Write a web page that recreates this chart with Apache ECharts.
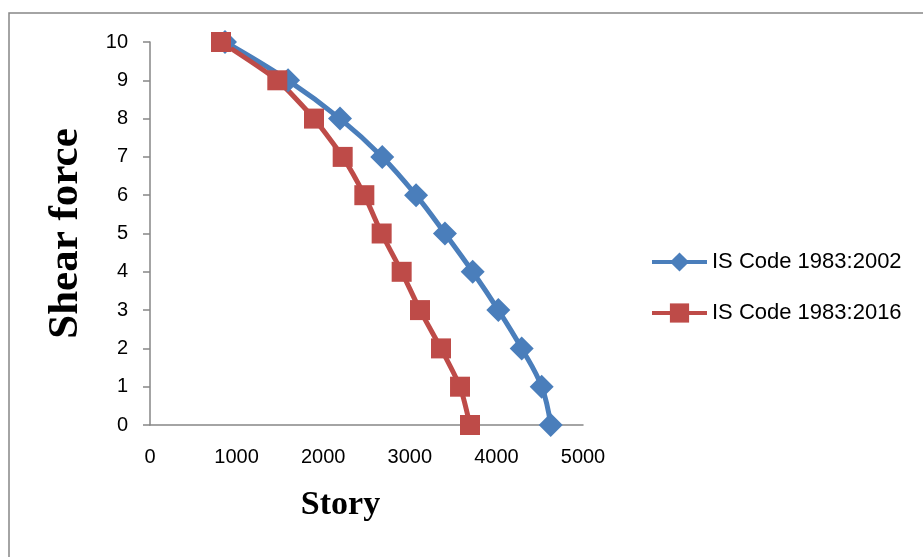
<!DOCTYPE html>
<html><head><meta charset="utf-8">
<script src="https://cdn.jsdelivr.net/npm/echarts@6/dist/echarts.min.js"></script>
<style>html,body{margin:0;padding:0;background:#fff}#c{width:923px;height:557px}</style>
</head><body><div id="c"></div>
<script>
const shearLevels = [0, 1, 2, 3, 4, 5, 6, 7, 8, 9, 10];
const code2002 = [4627, 4523, 4292, 4022, 3726, 3406, 3072, 2682, 2194, 1594, 866];
const code2016 = [3695, 3580, 3360, 3118, 2906, 2675, 2475, 2225, 1894, 1470, 820];
const seriesNames = ['IS Code 1983:2002', 'IS Code 1983:2016'];
const xTitle = 'Story';
const yTitle = 'Shear force';

const sans = '"Liberation Sans", Arial, sans-serif';
const serif = '"Liberation Serif", "Times New Roman", serif';
const chart = echarts.init(document.getElementById('c'), null, {renderer: 'canvas'});
chart.setOption({
  animation: false,
  backgroundColor: '#fff',
  graphic: [{
    type: 'rect', silent: true,
    shape: {x: 9, y: 13, width: 1200, height: 1200},
    style: {fill: 'none', stroke: '#868686', lineWidth: 1.5}
  }],
  grid: {left: 150, top: 42, width: 433, height: 383, containLabel: false},
  legend: {
    orient: 'vertical', left: 645, top: 246,
    itemWidth: 55, itemHeight: 24, itemGap: 29,
    lineStyle: {width: 4},
    textStyle: {fontFamily: sans, fontSize: 22, color: '#000'},
    data: seriesNames
  },
  xAxis: {
    type: 'value', min: 0, max: 5000, interval: 1000,
    name: xTitle, nameLocation: 'middle', nameGap: 63,
    nameTextStyle: {fontFamily: serif, fontWeight: 'bold', fontSize: 34, color: '#000', padding: [0, 52, 0, 0]},
    axisLine: {show: true, lineStyle: {color: '#868686', width: 1.5}},
    axisTick: {show: false},
    splitLine: {show: false},
    axisLabel: {fontFamily: sans, fontSize: 20, color: '#000', margin: 22, formatter: v => String(v)}
  },
  yAxis: {
    type: 'value', min: 0, max: 10, interval: 1,
    name: yTitle, nameLocation: 'middle', nameGap: 63, nameRotate: 90,
    nameTextStyle: {fontFamily: serif, fontWeight: 'bold', fontSize: 43, color: '#000'},
    axisLine: {show: true, lineStyle: {color: '#868686', width: 1.5}},
    axisTick: {show: true, inside: false, length: 7, lineStyle: {color: '#868686', width: 1.5}},
    splitLine: {show: false},
    axisLabel: {fontFamily: sans, fontSize: 20, color: '#000', margin: 22, formatter: v => String(v)}
  },
  series: [
    {
      name: seriesNames[0], type: 'line', smooth: 0.4,
      data: shearLevels.map((y, i) => [code2002[i], y]),
      symbol: 'diamond', symbolSize: 24,
      lineStyle: {color: '#4A7EBB', width: 5},
      itemStyle: {color: '#4A7EBB'}
    },
    {
      name: seriesNames[1], type: 'line', smooth: 0.2,
      data: shearLevels.map((y, i) => [code2016[i], y]),
      symbol: 'rect', symbolSize: 20,
      lineStyle: {color: '#BE4B48', width: 5},
      itemStyle: {color: '#BE4B48'}
    }
  ]
});
</script></body></html>
